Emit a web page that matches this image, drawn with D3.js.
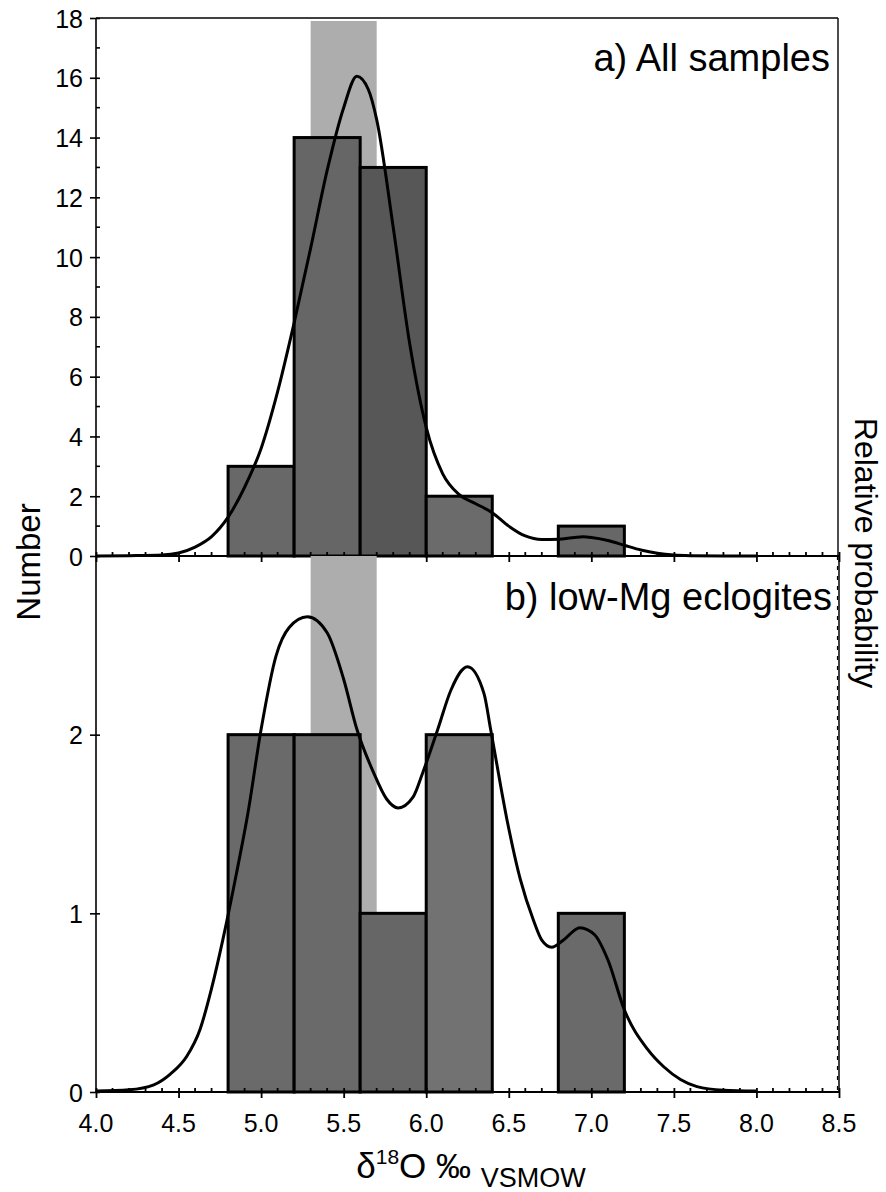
<!DOCTYPE html>
<html>
<head>
<meta charset="utf-8">
<script src="https://cdn.jsdelivr.net/npm/d3@7"></script>
<style>
  html, body { margin: 0; padding: 0; background: #fff; }
  svg { display: block; }
  text { font-family: "Liberation Sans", Arial, Helvetica, sans-serif; fill: #000; }
</style>
</head>
<body>
<svg id="chart" width="886" height="1192"></svg>
<script>
// Histogram bins of δ18O (‰ VSMOW)
const binEdges = [4.8, 5.2, 5.6, 6.0, 6.4, 6.8, 7.2];
const countsAll = [3, 14, 13, 2, 0, 1];
const countsLowMg = [2, 2, 1, 2, 0, 1];

// Mantle range band
const mantleBand = [5.3, 5.7];

// Probability density curves (scaled to the count axis of each panel)
const curveAllX = [4.0, 4.2, 4.4, 4.5, 4.6, 4.7, 4.8, 4.9, 5.0, 5.1, 5.2, 5.3, 5.4, 5.5, 5.58, 5.65, 5.7, 5.8, 5.9, 6.0, 6.1, 6.2, 6.3, 6.4, 6.5, 6.6, 6.7, 6.8, 6.9, 6.95, 7.0, 7.1, 7.2, 7.3, 7.4, 7.5, 7.6, 7.8, 8.0];
const curveAllY = [0.0, 0.01, 0.03, 0.1, 0.3, 0.65, 1.3, 2.3, 3.6, 5.5, 7.8, 10.3, 12.9, 15.0, 16.05, 15.6, 14.6, 11.0, 7.1, 4.3, 2.75, 2.05, 1.75, 1.45, 1.0, 0.67, 0.55, 0.56, 0.62, 0.64, 0.62, 0.52, 0.36, 0.2, 0.09, 0.03, 0.01, 0.0, 0.0];

const curveLowMgX = [4.0, 4.2, 4.35, 4.45, 4.55, 4.63, 4.7, 4.77, 4.85, 4.92, 5.0, 5.09, 5.17, 5.28, 5.4, 5.5, 5.58, 5.68, 5.76, 5.83, 5.92, 5.98, 6.07, 6.15, 6.25, 6.35, 6.39, 6.49, 6.57, 6.65, 6.7, 6.76, 6.83, 6.93, 7.02, 7.1, 7.2, 7.34, 7.44, 7.54, 7.64, 7.8, 8.0];
const curveLowMgY = [0.005, 0.012, 0.04, 0.1, 0.2, 0.35, 0.58, 0.86, 1.22, 1.56, 2.03, 2.44, 2.6, 2.66, 2.57, 2.31, 2.03, 1.79, 1.64, 1.59, 1.65, 1.79, 2.03, 2.25, 2.38, 2.23, 2.03, 1.52, 1.19, 0.96, 0.85, 0.81, 0.85, 0.92, 0.88, 0.74, 0.46, 0.24, 0.14, 0.07, 0.03, 0.01, 0.005];

// Axis ticks
const xTicks = [4.0, 4.5, 5.0, 5.5, 6.0, 6.5, 7.0, 7.5, 8.0, 8.5];
const yTicksAll = [0, 2, 4, 6, 8, 10, 12, 14, 16, 18];
const yTicksLowMg = [0, 1, 2];

// Bar fills
const fillsAll = ["#686868", "#666666", "#575757", "#6b6b6b", "#666666", "#676767"];
const fillsLowMg = ["#6a6a6a", "#6a6a6a", "#666666", "#727272", "#666666", "#6a6a6a"];

const svg = d3.select("#chart");

const x = d3.scaleLinear().domain([4.0, 8.5]).range([96, 839]);
const yA = d3.scaleLinear().domain([0, 18]).range([556, 18]);
const yB = d3.scaleLinear().domain([0, 3]).range([1092, 556]);

function panel(y, counts, fills, curveX, curveY, yTicks, yMinorStep, bandTop) {
  const g = svg.append("g");
  // band
  g.append("rect")
    .attr("x", x(mantleBand[0]))
    .attr("width", x(mantleBand[1]) - x(mantleBand[0]))
    .attr("y", y(bandTop))
    .attr("height", y(0) - y(bandTop))
    .attr("fill", "#adadad");
  // bars
  const bins = counts.map((c, i) => ({ x0: binEdges[i], x1: binEdges[i + 1], c, fill: fills[i] }))
    .filter(d => d.c > 0);
  g.selectAll("rect.bar").data(bins).enter().append("rect")
    .attr("class", "bar")
    .attr("x", d => x(d.x0))
    .attr("width", d => x(d.x1) - x(d.x0))
    .attr("y", d => y(d.c))
    .attr("height", d => y(0) - y(d.c))
    .attr("fill", d => d.fill)
    .attr("stroke", "#000")
    .attr("stroke-width", 3);
  // curve
  const pts = curveX.map((v, i) => [v, curveY[i]]);
  g.append("path")
    .attr("d", d3.line().x(d => x(d[0])).y(d => y(d[1])).curve(d3.curveMonotoneX)(pts))
    .attr("fill", "none")
    .attr("stroke", "#000")
    .attr("stroke-width", 3);

  // left axis
  const axL = g.append("g").attr("transform", `translate(${x(4)},0)`)
    .call(d3.axisLeft(y).tickValues(yTicks).tickSize(6).tickPadding(7).tickFormat(d3.format("d")));
  axL.select(".domain").remove();
  axL.selectAll(".tick line").attr("x1", 4).attr("stroke-width", 1.6);
  axL.selectAll(".tick text").attr("font-size", 25).attr("font-family", null).attr("dy", "0.36em");
  if (yMinorStep) {
    const minor = d3.range(yMinorStep, y.domain()[1], yMinorStep * 2);
    g.selectAll("line.yminor").data(minor).enter().append("line")
      .attr("x1", x(4)).attr("x2", x(4) + 4)
      .attr("y1", d => y(d)).attr("y2", d => y(d))
      .attr("stroke", "#000").attr("stroke-width", 1.6);
  }
  g.append("line")
    .attr("x1", x(4)).attr("x2", x(4))
    .attr("y1", y.range()[1]).attr("y2", y(0))
    .attr("stroke", "#000").attr("stroke-width", 1.6);

  // bottom axis
  const y0 = y(0);
  const axB = g.append("g").attr("transform", `translate(0,${y0})`)
    .call(d3.axisBottom(x).tickValues(xTicks).tickSize(6).tickFormat(""));
  axB.select(".domain").remove();
  axB.selectAll(".tick line").attr("y1", -4).attr("stroke-width", 1.8);
  const minorX = d3.range(41, 85).map(v => v / 10).filter(v => Math.abs(v * 2 - Math.round(v * 2)) > 1e-6);
  g.selectAll("line.xminor").data(minorX).enter().append("line")
    .attr("x1", d => x(d)).attr("x2", d => x(d))
    .attr("y1", y0 - 4).attr("y2", y0)
    .attr("stroke", "#000").attr("stroke-width", 1.8);
  g.append("line")
    .attr("x1", x(4)).attr("x2", x(8.5))
    .attr("y1", y0).attr("y2", y0)
    .attr("stroke", "#000").attr("stroke-width", 1.8);
  return g;
}

panel(yA, countsAll, fillsAll, curveAllX, curveAllY, yTicksAll, 1, 17.9);
panel(yB, countsLowMg, fillsLowMg, curveLowMgX, curveLowMgY, yTicksLowMg, 0, 3);

// top frame of upper panel
svg.append("line").attr("x1", x(4)).attr("x2", 838).attr("y1", yA(18)).attr("y2", yA(18))
  .attr("stroke", "#000").attr("stroke-width", 1.4);
svg.append("line").attr("x1", 838).attr("x2", 838).attr("y1", yA(18)).attr("y2", yA(0))
  .attr("stroke", "#000").attr("stroke-width", 1.4);

// right (relative probability) axis of lower panel
svg.append("line").attr("x1", x(8.5)).attr("x2", x(8.5)).attr("y1", yB(3)).attr("y2", yB(0))
  .attr("stroke", "#000").attr("stroke-width", 1.5);
svg.append("line").attr("x1", x(8.5) - 1.5).attr("x2", x(8.5) - 1.5).attr("y1", yB(3)).attr("y2", yB(0))
  .attr("stroke", "#000").attr("stroke-width", 1.2).attr("stroke-dasharray", "4 6");

// x tick labels (bottom only)
svg.append("g").selectAll("text").data(xTicks).enter().append("text")
  .attr("x", d => x(d)).attr("y", 1132)
  .attr("text-anchor", "middle").attr("font-size", 25)
  .text(d3.format(".1f"));

// panel titles
svg.append("text").attr("x", 830).attr("y", 71).attr("text-anchor", "end")
  .attr("font-size", 38).text("a) All samples");
svg.append("text").attr("x", 832).attr("y", 610).attr("text-anchor", "end")
  .attr("font-size", 38).text("b) low-Mg eclogites");

// axis titles
svg.append("text").attr("transform", "translate(40,562) rotate(-90)")
  .attr("text-anchor", "middle").attr("font-size", 33).text("Number");
svg.append("text").attr("transform", "translate(855,553) rotate(90)")
  .attr("text-anchor", "middle").attr("font-size", 32).text("Relative probability");

const xl = svg.append("text").attr("x", 471).attr("y", 1178).attr("text-anchor", "middle").attr("font-size", 35);
xl.append("tspan").text("δ");
xl.append("tspan").attr("font-size", 21).attr("dy", -14).text("18");
xl.append("tspan").attr("dy", 14).text("O ‰ ");
xl.append("tspan").attr("font-size", 27).attr("dy", 9).text("VSMOW");
</script>
</body>
</html>
